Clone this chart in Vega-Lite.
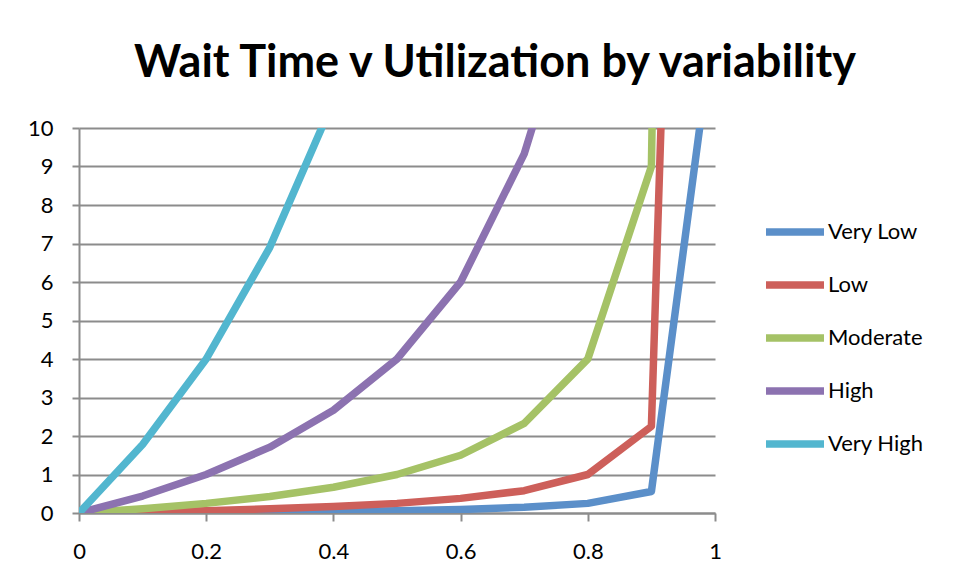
{
  "$schema": "https://vega.github.io/schema/vega-lite/v6.json",
  "width": 636,
  "height": 385,
  "autosize": {"type": "none"},
  "padding": {"left": 79, "top": 128, "right": 238, "bottom": 64},
  "background": "white",
  "title": {
    "text": "Wait Time v Utilization by variability",
    "font": "Lato",
    "fontWeight": "bold",
    "fontSize": 45,
    "color": "#000000",
    "anchor": "middle",
    "dx": 98,
    "offset": -5,
    "baseline": "alphabetic"
  },
  "data": {
    "values": [
      {"series": "Very Low", "u": 0, "w": 0},
      {"series": "Very Low", "u": 0.1, "w": 0.01},
      {"series": "Very Low", "u": 0.2, "w": 0.02},
      {"series": "Very Low", "u": 0.3, "w": 0.03},
      {"series": "Very Low", "u": 0.4, "w": 0.04},
      {"series": "Very Low", "u": 0.5, "w": 0.06},
      {"series": "Very Low", "u": 0.6, "w": 0.09},
      {"series": "Very Low", "u": 0.7, "w": 0.15},
      {"series": "Very Low", "u": 0.8, "w": 0.25},
      {"series": "Very Low", "u": 0.9, "w": 0.56},
      {"series": "Very Low", "u": 1.0, "w": 13},
      {"series": "Low", "u": 0, "w": 0},
      {"series": "Low", "u": 0.1, "w": 0.03},
      {"series": "Low", "u": 0.2, "w": 0.06},
      {"series": "Low", "u": 0.3, "w": 0.11},
      {"series": "Low", "u": 0.4, "w": 0.17},
      {"series": "Low", "u": 0.5, "w": 0.25},
      {"series": "Low", "u": 0.6, "w": 0.38},
      {"series": "Low", "u": 0.7, "w": 0.58},
      {"series": "Low", "u": 0.8, "w": 1.0},
      {"series": "Low", "u": 0.9, "w": 2.25},
      {"series": "Low", "u": 1.0, "w": 54},
      {"series": "Moderate", "u": 0, "w": 0},
      {"series": "Moderate", "u": 0.1, "w": 0.11},
      {"series": "Moderate", "u": 0.2, "w": 0.25},
      {"series": "Moderate", "u": 0.3, "w": 0.43},
      {"series": "Moderate", "u": 0.4, "w": 0.67},
      {"series": "Moderate", "u": 0.5, "w": 1.0},
      {"series": "Moderate", "u": 0.6, "w": 1.5},
      {"series": "Moderate", "u": 0.7, "w": 2.33},
      {"series": "Moderate", "u": 0.8, "w": 4.0},
      {"series": "Moderate", "u": 0.9, "w": 9.0},
      {"series": "Moderate", "u": 0.99, "w": 99},
      {"series": "High", "u": 0, "w": 0},
      {"series": "High", "u": 0.1, "w": 0.44},
      {"series": "High", "u": 0.2, "w": 1.0},
      {"series": "High", "u": 0.3, "w": 1.71},
      {"series": "High", "u": 0.4, "w": 2.67},
      {"series": "High", "u": 0.5, "w": 4.0},
      {"series": "High", "u": 0.6, "w": 6.0},
      {"series": "High", "u": 0.7, "w": 9.33},
      {"series": "High", "u": 0.75, "w": 12},
      {"series": "Very High", "u": 0, "w": 0},
      {"series": "Very High", "u": 0.1, "w": 1.78},
      {"series": "Very High", "u": 0.2, "w": 4.0},
      {"series": "Very High", "u": 0.3, "w": 6.9},
      {"series": "Very High", "u": 0.4, "w": 10.7}
    ]
  },
  "mark": {"type": "line", "strokeWidth": 7.5, "clip": true, "strokeJoin": "round", "strokeCap": "round"},
  "encoding": {
    "x": {
      "field": "u",
      "type": "quantitative",
      "scale": {"domain": [0, 1], "nice": false, "zero": false},
      "axis": {
        "title": null,
        "values": [0, 0.2, 0.4, 0.6, 0.8, 1],
        "format": "~g",
        "grid": false,
        "domainColor": "#8c8c8c",
        "domainWidth": 2,
        "tickColor": "#8c8c8c",
        "tickWidth": 2,
        "tickSize": 8,
        "labelFont": "Lato",
        "labelFontSize": 22,
        "labelColor": "#000000",
        "labelPadding": 20,
        "labelFlush": false
      }
    },
    "y": {
      "field": "w",
      "type": "quantitative",
      "scale": {"domain": [0, 10], "nice": false},
      "axis": {
        "title": null,
        "values": [0, 1, 2, 3, 4, 5, 6, 7, 8, 9, 10],
        "grid": true,
        "gridColor": "#8c8c8c",
        "gridWidth": 2,
        "domainColor": "#8c8c8c",
        "domainWidth": 2,
        "tickColor": "#8c8c8c",
        "tickWidth": 2,
        "tickSize": 7,
        "labelFont": "Lato",
        "labelFontSize": 22,
        "labelColor": "#000000",
        "labelPadding": 19
      }
    },
    "color": {
      "field": "series",
      "type": "nominal",
      "sort": ["Very Low", "Low", "Moderate", "High", "Very High"],
      "scale": {
        "domain": ["Very Low", "Low", "Moderate", "High", "Very High"],
        "range": ["#5b8fc9", "#cd5f5a", "#a5c266", "#8c72b0", "#52b6cf"]
      },
      "legend": {
        "title": null,
        "orient": "none",
        "legendX": 683,
        "legendY": 71,
        "symbolType": "stroke",
        "symbolSize": 3364,
        "symbolStrokeWidth": 7.5,
        "labelFont": "Lato",
        "labelFontSize": 22,
        "labelColor": "#000000",
        "labelOffset": 0,
        "rowPadding": 5
      }
    }
  },
  "config": {"view": {"stroke": null}}
}
